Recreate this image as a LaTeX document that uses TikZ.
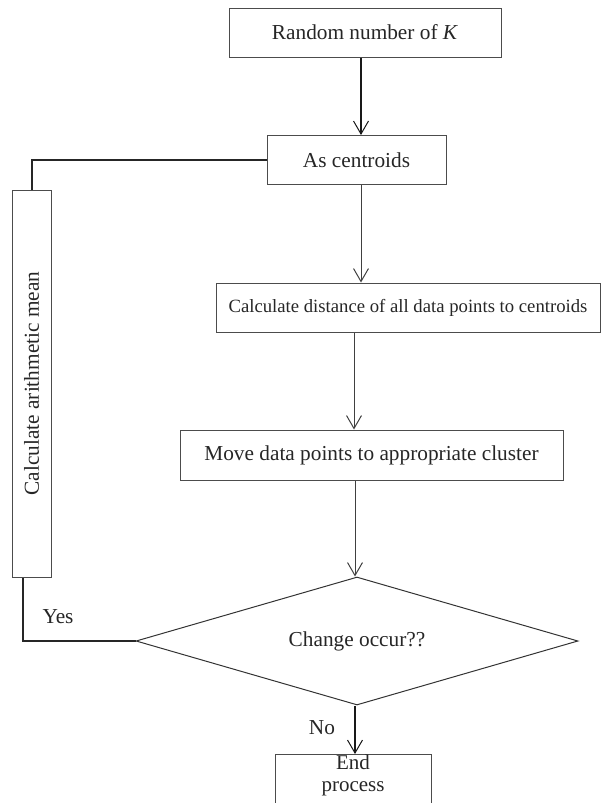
\documentclass[tikz,border=0pt]{standalone}
\usepackage{fontspec}
\setmainfont{Liberation Serif}
\usetikzlibrary{positioning,shapes.geometric,arrows.meta}
\tikzset{
    stage/.style={
        rectangle,
        draw=black!70,
        line width=1pt,
        text=black!85,
        text centered,
        minimum height=49pt
    },
    arrow/.style={
        -{Straight Barb[length=13pt,width=15pt,line width=1pt]},
        line width=0.9pt,
        draw=black!75
    },
    backline/.style={
        line width=2pt,
        draw=black!85
    }
}
\tikzstyle{decision} = [diamond, draw=black!80, line width=1pt, text=black!85, minimum width=442pt, minimum height=128pt, aspect=3.45, inner sep=0pt]

\begin{document}
\begin{tikzpicture}[x=1pt, y=1pt, node distance=147.5pt, font=\fontsize{21.3}{19}\selectfont]
    \useasboundingbox (0,0) rectangle (615,-803);
    \node (rnd) [stage, minimum width=272pt] at (365,-32.5) {Random number of \textit{K}};
    \node (cent) [stage, minimum width=179pt, below of=rnd, yshift=20pt, xshift=-8.5pt] {As centroids};
    \node (dist) [stage, minimum width=384pt, below of=cent, xshift=51.5pt, font=\fontsize{18.7}{19}\selectfont] {Calculate distance of all data points to centroids};
    \node (move) [stage, minimum width=383pt, minimum height=50pt, below of=dist, xshift=-36.5pt] {Move data points to appropriate cluster};
    \node (chg) [decision, below of=move, yshift=-38.5pt, xshift=-14.5pt] {Change occur??};
    \node (stop) [stage, minimum width=156pt, below of=chg, yshift=34.5pt, xshift=-4pt, anchor=north, align=center, inner ysep=0.5pt, text depth=40pt, font=\fontsize{21}{22}\selectfont] {End\\process};
    \node (mean) [stage, minimum width=39pt, minimum height=387pt] at (31.5,-383.5) {\rotatebox{90}{Calculate arithmetic mean}};
    \node (yes) [text=black!85] at (58,-617) {Yes};
    \node (no) [text=black!85] at (322,-728) {No};
    \draw [arrow, line width=2pt, draw=black!90] ([xshift=-4pt]rnd.south) -- ([xshift=4.5pt]cent.north);
    \draw [arrow] ([xshift=4.5pt]cent.south) -- ([xshift=-47pt]dist.north);
    \draw [arrow] ([xshift=-54pt]dist.south) -- ([xshift=-17.5pt]move.north);
    \draw [arrow] ([xshift=-16.5pt]move.south) -- ([xshift=-2pt]chg.north);
    \draw [arrow, line width=2pt, draw=black!90] ([xshift=-2pt]chg.south) -- ([xshift=2pt]stop.north);
    \draw [backline] (chg.west) -| ([xshift=-8.5pt]mean.south);
    \draw [backline] (mean.north) |- (cent.west);
\end{tikzpicture}
\end{document}
